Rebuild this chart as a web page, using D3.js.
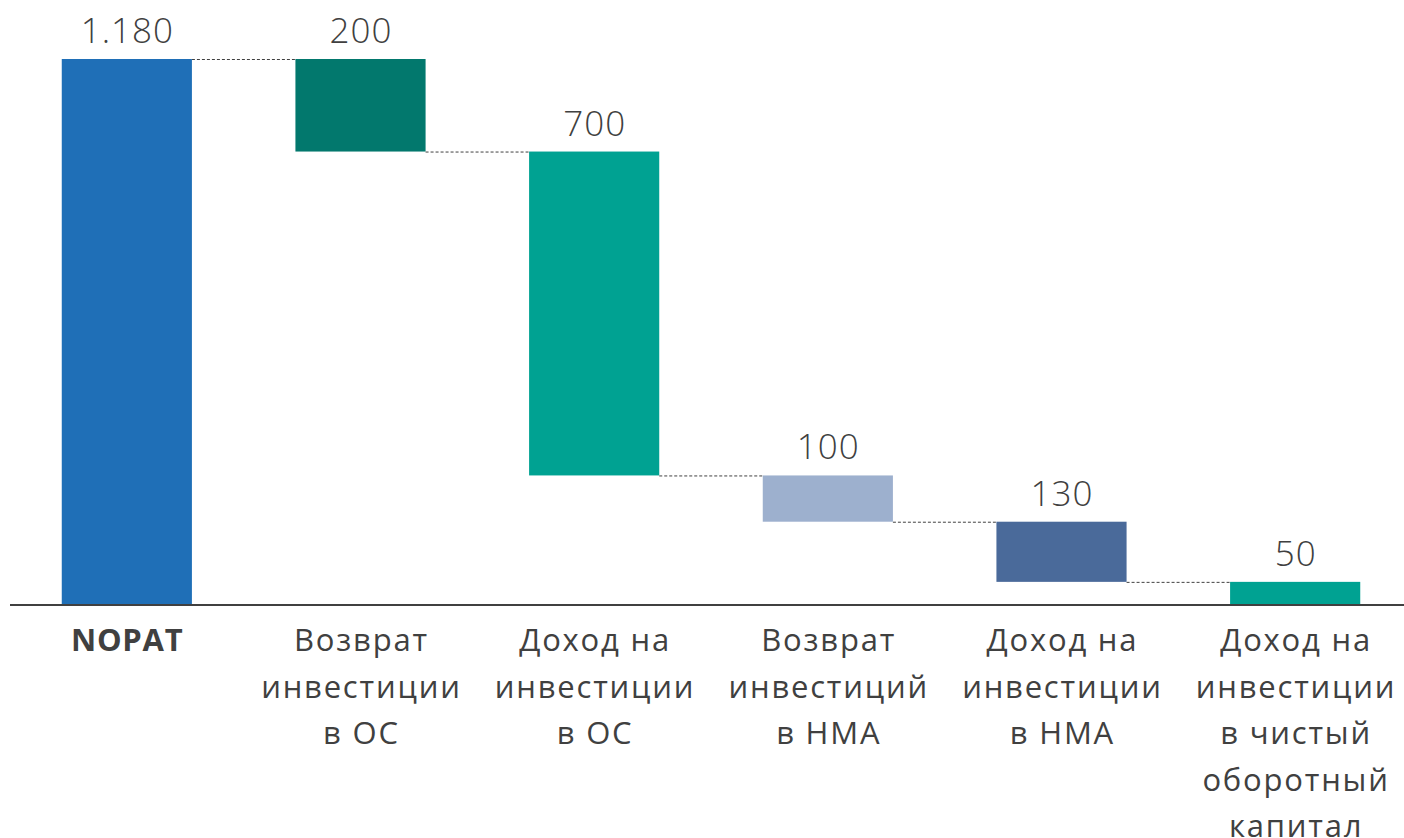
<!DOCTYPE html>
<html>
<head>
<meta charset="utf-8">
<script src="https://cdn.jsdelivr.net/npm/d3@7"></script>
<style>
  body { margin: 0; background: #fff; }
  svg text { font-family: "Open Sans", "DejaVu Sans", sans-serif; fill: #404040; }
</style>
</head>
<body>
<div id="chart"></div>
<script>
// categories (lines of each axis label)
const categories = ['NOPAT', 'Возврат инвестиции в ОС', 'Доход на инвестиции в ОС', 'Возврат инвестиций в НМА', 'Доход на инвестиции в НМА', 'Доход на инвестиции в чистый оборотный капитал'];
const labelLines = [
    ['NOPAT'],
    ['Возврат', 'инвестиции', 'в ОС'],
    ['Доход на', 'инвестиции', 'в ОС'],
    ['Возврат', 'инвестиций', 'в НМА'],
    ['Доход на', 'инвестиции', 'в НМА'],
    ['Доход на', 'инвестиции', 'в чистый', 'оборотный', 'капитал']
];
const values = [1180, 200, 700, 100, 130, 50];
const isTotal = [true, false, false, false, false, false];
const colors = ['#1f6fb7', '#02786d', '#00a292', '#9db0ce', '#4a6a9a', '#00a292'];

const width = 1404, height = 838;
const svg = d3.select('#chart').append('svg').attr('width', width).attr('height', height);

const fmt = d3.formatLocale({decimal: ',', thousands: '.', grouping: [3], currency: ['', '']}).format(',d');

// waterfall: first bar is the total, then each item steps down
let running = 0;
const bars = values.map((v, i) => {
    let top, bottom;
    if (isTotal[i]) { top = v; bottom = 0; running = v; }
    else { top = running; bottom = running - v; running = bottom; }
    return {cat: categories[i], lines: labelLines[i], value: v, top: top, bottom: bottom, color: colors[i]};
});

const x = d3.scaleBand().domain(categories).range([10, 1412]).paddingInner(0.443).paddingOuter(0.2215);
const y = d3.scaleLinear().domain([0, 1180]).range([605, 59]);

// connectors
const conn = svg.append('g');
bars.slice(0, -1).forEach((d, i) => {
    const lvl = bars[i + 1].top;
    conn.append('line')
        .attr('x1', x(d.cat) + x.bandwidth())
        .attr('x2', x(bars[i + 1].cat))
        .attr('y1', y(lvl) + 0.5).attr('y2', y(lvl) + 0.5)
        .attr('stroke', '#404040').attr('stroke-width', 1)
        .attr('stroke-dasharray', '3,2');
});

svg.append('g').selectAll('rect').data(bars).join('rect')
    .attr('x', d => x(d.cat))
    .attr('width', x.bandwidth())
    .attr('y', d => y(d.top))
    .attr('height', d => y(d.bottom) - y(d.top))
    .attr('fill', d => d.color);

const valSpacing = 1;
svg.append('g').selectAll('text').data(bars).join('text')
    .attr('x', d => x(d.cat) + x.bandwidth() / 2 + valSpacing / 2)
    .attr('y', d => y(d.top) - 16)
    .attr('text-anchor', 'middle')
    .attr('font-size', 35)
    .attr('font-weight', 300)
    .attr('letter-spacing', valSpacing)
    .text(d => fmt(d.value));

// axis
const xAxis = d3.axisBottom(x).tickSize(0).tickFormat('');
const gx = svg.append('g').attr('transform', 'translate(0,605)').call(xAxis);
gx.select('.domain').attr('d', 'M10,0H1404').attr('stroke', '#404040').attr('stroke-width', 2);

const labSpacing = 1.8;
const lab = svg.append('g').selectAll('text').data(bars).join('text')
    .attr('text-anchor', 'middle')
    .attr('font-size', 31)
    .attr('letter-spacing', (d, i) => i === 0 ? 0.8 : labSpacing)
    .attr('font-weight', (d, i) => i === 0 ? 700 : 400);
lab.selectAll('tspan').data((d, i) => d.lines.map(l => ({l: l, cx: x(d.cat) + x.bandwidth() / 2 + (i === 0 ? 0.4 : labSpacing / 2)})))
    .join('tspan')
    .attr('x', t => t.cx)
    .attr('y', (t, j) => 651 + j * 46.5)
    .text(t => t.l);
</script>
</body>
</html>
